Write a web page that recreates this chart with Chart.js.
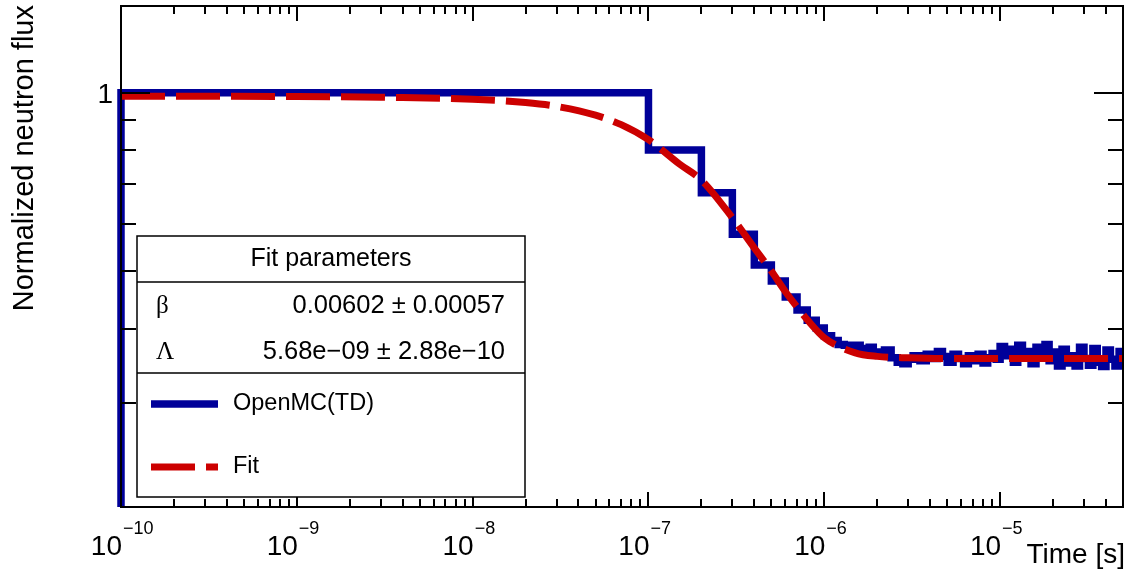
<!DOCTYPE html>
<html>
<head>
<meta charset="utf-8">
<script src="https://cdn.jsdelivr.net/npm/chart.js@4/dist/chart.umd.min.js"></script>
<style>
  html, body { margin: 0; padding: 0; background: #fff; }
</style>
</head>
<body>
<canvas id="myChart" width="1132" height="576"></canvas>
<script>
// histogram (OpenMC TD): lower bin edges [s] and bin contents
const histEdges = [1e-10, 1e-7, 2e-7, 3e-7, 4e-7, 5e-7, 6e-7, 7e-7, 8e-7, 9e-7,
  1.0e-6, 1.1e-6, 1.2e-6, 1.3e-6, 1.4e-6, 1.5e-6, 1.6e-6, 1.7e-6, 1.8e-6, 1.9e-6,
  2.0e-6, 2.2e-6, 2.4e-6, 2.6e-6, 2.8e-6, 3.0e-6, 3.2e-6, 3.5e-6, 3.8e-6, 4.1e-6,
  4.4e-6, 4.7e-6, 5.0e-6, 5.4e-6, 5.8e-6, 6.2e-6, 6.6e-6, 7.0e-6, 7.5e-6, 8.0e-6,
  8.5e-6, 9.0e-6, 9.5e-6, 1.0e-5, 1.06e-5, 1.12e-5, 1.19e-5, 1.26e-5, 1.34e-5, 1.42e-5,
  1.5e-5, 1.6e-5, 1.7e-5, 1.8e-5, 1.9e-5, 2.0e-5, 2.12e-5, 2.25e-5, 2.38e-5, 2.52e-5,
  2.67e-5, 2.83e-5, 3.0e-5, 3.18e-5, 3.37e-5, 3.57e-5, 3.78e-5, 4.0e-5, 4.24e-5, 4.5e-5,
  4.75e-5, 5.0e-5];
const histValues = [1.0, 0.80, 0.678, 0.577, 0.512, 0.481, 0.452, 0.430, 0.413, 0.401,
  0.389, 0.382, 0.376, 0.375, 0.370, 0.375, 0.370, 0.368, 0.372, 0.365,
  0.362, 0.368, 0.357, 0.351, 0.349, 0.355, 0.360, 0.353, 0.362, 0.356,
  0.366, 0.359, 0.351, 0.362, 0.356, 0.349, 0.360, 0.353, 0.362, 0.350,
  0.357, 0.363, 0.355, 0.373, 0.360, 0.369, 0.351, 0.375, 0.359, 0.366,
  0.349, 0.372, 0.357, 0.376, 0.353, 0.365, 0.346, 0.369, 0.350, 0.360,
  0.346, 0.372, 0.356, 0.347, 0.370, 0.351, 0.345, 0.368, 0.355, 0.346,
  0.366, 0.366];

// fitted curve
const fitTimes = [1e-10, 3e-10, 1e-9, 3e-9, 1e-8, 2e-8, 3e-8, 5e-8, 7e-8, 1e-7,
  1.5e-7, 2e-7, 3e-7, 4e-7, 5e-7, 6e-7, 7e-7, 8e-7, 1e-6, 1.5e-6,
  2e-6, 3e-6, 5e-6, 1e-5, 2e-5, 5e-5];
const fitValues = [0.986, 0.986, 0.985, 0.982, 0.975, 0.962, 0.948, 0.916, 0.883, 0.833,
  0.758, 0.712, 0.615, 0.547, 0.500, 0.462, 0.435, 0.414, 0.386, 0.364,
  0.359, 0.357, 0.356, 0.356, 0.356, 0.356];

// axis ticks
const xMajorTicks = [1e-10, 1e-9, 1e-8, 1e-7, 1e-6, 1e-5];
const xTickExponents = ['\u221210', '\u22129', '\u22128', '\u22127', '\u22126', '\u22125'];
const yMajorTicks = [1];
const yTickLabels = ['1'];
const yMinorTicks = [0.3, 0.4, 0.5, 0.6, 0.7, 0.8, 0.9];

// fit parameter box
const paramNames = ['\u03b2', '\u039b'];
const paramValues = ['0.00602 \u00b1 0.00057', '5.68e\u221209 \u00b1 2.88e\u221210'];

const sans = '"Liberation Sans", Arial, Helvetica, sans-serif';
const serif = '"Liberation Serif", "Times New Roman", serif';

const histData = [{x: histEdges[0], y: 0.15}];
histEdges.forEach((e, i) => histData.push({x: e, y: histValues[i]}));
const fitData = fitTimes.map((t, i) => ({x: t, y: fitValues[i]}));

const rootFrame = {
  id: 'rootFrame',
  afterDatasetsDraw(chart) {
    const ctx = chart.ctx;
    const a = chart.chartArea;
    const xs = chart.scales.x, ys = chart.scales.y;
    ctx.save();
    ctx.strokeStyle = '#000';
    ctx.lineWidth = 2;
    ctx.strokeRect(a.left, a.top, a.right - a.left, a.bottom - a.top);

    // x ticks, inside, bottom and top
    ctx.beginPath();
    for (let d = -10; d <= -5; d++) {
      for (let m = 1; m <= 9; m++) {
        const v = m * Math.pow(10, d);
        if (v > xs.max * 1.0001) break;
        const px = Math.round(xs.getPixelForValue(v));
        const len = m === 1 ? 15 : 8;
        ctx.moveTo(px, a.bottom); ctx.lineTo(px, a.bottom - len);
        ctx.moveTo(px, a.top); ctx.lineTo(px, a.top + len);
      }
    }
    // y ticks, inside, left and right
    yMajorTicks.forEach(v => {
      const py = Math.round(ys.getPixelForValue(v));
      ctx.moveTo(a.left, py); ctx.lineTo(a.left + 29, py);
      ctx.moveTo(a.right, py); ctx.lineTo(a.right - 29, py);
    });
    yMinorTicks.forEach(v => {
      const py = Math.round(ys.getPixelForValue(v));
      ctx.moveTo(a.left, py); ctx.lineTo(a.left + 15, py);
      ctx.moveTo(a.right, py); ctx.lineTo(a.right - 15, py);
    });
    ctx.stroke();

    // x tick labels 10^n
    ctx.fillStyle = '#000';
    ctx.textBaseline = 'alphabetic';
    xMajorTicks.forEach((v, i) => {
      const px = xs.getPixelForValue(v);
      ctx.textAlign = 'right';
      ctx.font = '28px ' + sans;
      ctx.fillText('10', px + 1, 555);
      ctx.textAlign = 'left';
      ctx.font = '18px ' + sans;
      ctx.fillText(xTickExponents[i], px + 2, 534);
    });

    // y tick labels
    ctx.font = '28px ' + sans;
    ctx.textAlign = 'right';
    ctx.textBaseline = 'middle';
    yMajorTicks.forEach((v, i) => {
      ctx.fillText(yTickLabels[i], 113, ys.getPixelForValue(v) + 3);
    });

    // axis titles
    ctx.font = '28px ' + sans;
    ctx.textAlign = 'right';
    ctx.textBaseline = 'alphabetic';
    ctx.fillText('Time [s]', 1125, 563);
    ctx.save();
    ctx.font = '29px ' + sans;
    ctx.translate(33, 5);
    ctx.rotate(-Math.PI / 2);
    ctx.textAlign = 'right';
    ctx.fillText('Normalized neutron flux', 0, 0);
    ctx.restore();

    // fit parameters + legend box
    const bx = 137, by = 236, bw = 388, bh = 261;
    ctx.fillStyle = '#fff';
    ctx.fillRect(bx, by, bw, bh);
    ctx.lineWidth = 1.5;
    ctx.strokeStyle = '#000';
    ctx.strokeRect(bx, by, bw, bh);
    ctx.beginPath();
    ctx.moveTo(bx, 282); ctx.lineTo(bx + bw, 282);
    ctx.moveTo(bx, 373); ctx.lineTo(bx + bw, 373);
    ctx.stroke();

    ctx.fillStyle = '#000';
    ctx.textBaseline = 'middle';
    ctx.textAlign = 'center';
    ctx.font = '25px ' + sans;
    ctx.fillText('Fit parameters', bx + bw / 2, 259);
    const rowY = [306, 352];
    paramNames.forEach((n, i) => {
      ctx.textAlign = 'left';
      ctx.font = '25px ' + serif;
      ctx.fillText(n, 156, rowY[i]);
      ctx.textAlign = 'right';
      ctx.font = '25.5px ' + sans;
      ctx.fillText(paramValues[i], 505, rowY[i]);
    });

    const legY = [404, 467];
    chart.data.datasets.forEach((ds, i) => {
      ctx.save();
      ctx.strokeStyle = ds.borderColor;
      ctx.lineWidth = ds.borderWidth;
      ctx.lineCap = 'butt';
      ctx.setLineDash(ds.borderDash || []);
      ctx.beginPath();
      ctx.moveTo(151, legY[i]); ctx.lineTo(218, legY[i]);
      ctx.stroke();
      ctx.restore();
      ctx.textAlign = 'left';
      ctx.font = '23.5px ' + sans;
      ctx.fillText(ds.label, 233, legY[i]);
    });
    ctx.restore();
  }
};

const ctx = document.getElementById('myChart').getContext('2d');
new Chart(ctx, {
  type: 'line',
  data: {
    datasets: [{
      label: 'OpenMC(TD)',
      data: histData,
      stepped: true,
      borderColor: '#000099',
      borderWidth: 7.5,
      pointRadius: 0,
      fill: false,
      order: 1,
      clip: {left: 5, top: 5, right: 4, bottom: 0}
    }, {
      label: 'Fit',
      data: fitData,
      borderColor: '#cc0000',
      borderWidth: 7,
      borderDash: [44, 11],
      borderCapStyle: 'butt',
      cubicInterpolationMode: 'monotone',
      pointRadius: 0,
      fill: false,
      order: 0
    }]
  },
  options: {
    responsive: false,
    animation: false,
    events: [],
    layout: { padding: { left: 121, top: 6, right: 9, bottom: 69 } },
    plugins: { legend: { display: false }, tooltip: { enabled: false } },
    scales: {
      x: { type: 'logarithmic', min: 1e-10, max: 5e-5, display: false },
      y: { type: 'logarithmic', min: 0.2, max: 1.4, display: false }
    }
  },
  plugins: [rootFrame]
});
</script>
</body>
</html>
